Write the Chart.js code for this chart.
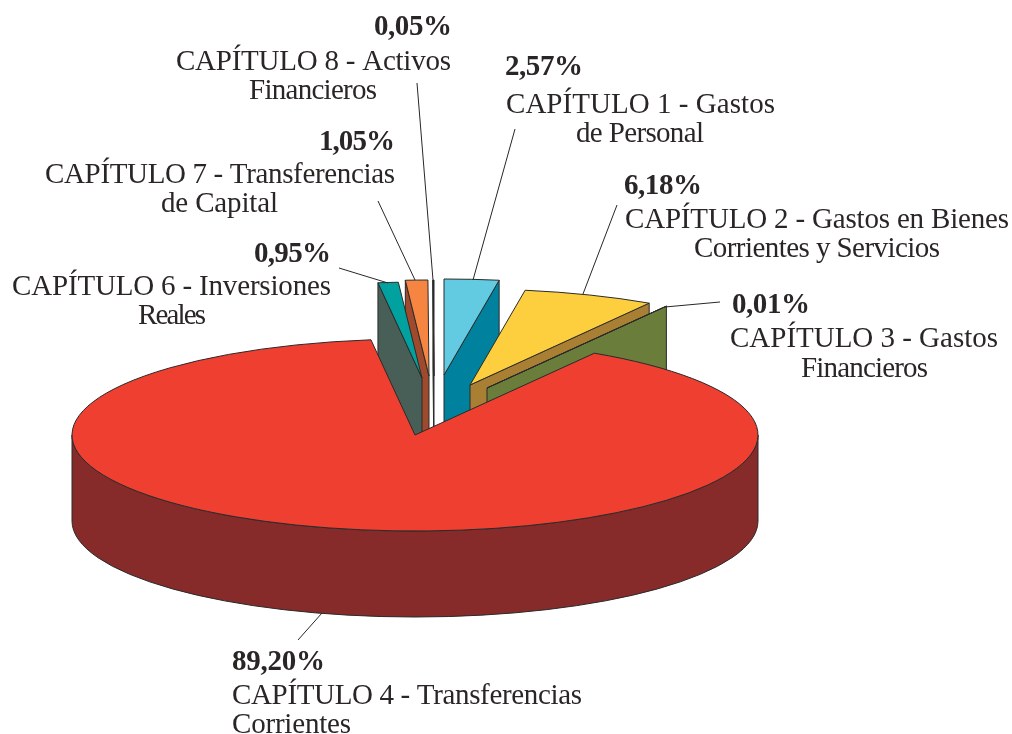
<!DOCTYPE html>
<html>
<head>
<meta charset="utf-8">
<style>html,body{margin:0;padding:0;background:#fff;overflow:hidden}canvas{display:block}</style>
<script src="https://cdn.jsdelivr.net/npm/chart.js@4"></script>
</head>
<body>
<canvas id="c" width="1012" height="734"></canvas>
<script>
const chapters = ['CAPÍTULO 1', 'CAPÍTULO 2', 'CAPÍTULO 3', 'CAPÍTULO 4', 'CAPÍTULO 6', 'CAPÍTULO 7', 'CAPÍTULO 8'];
const firstLines = ['CAPÍTULO 1 - Gastos', 'CAPÍTULO 2 - Gastos en Bienes', 'CAPÍTULO 3 - Gastos', 'CAPÍTULO 4 - Transferencias', 'CAPÍTULO 6 - Inversiones', 'CAPÍTULO 7 - Transferencias', 'CAPÍTULO 8 - Activos'];
const secondLines = ['de Personal', 'Corrientes y Servicios', 'Financieros', 'Corrientes', 'Reales', 'de Capital', 'Financieros'];
const shares = [2.57, 6.18, 0.01, 89.20, 0.95, 1.05, 0.05];
const topColours = ['#62cbe2', '#fdcf3e', '#6a7d3a', '#ee3f30', '#00a19e', '#f58540', '#1f2140'];
const sideColours = ['#00829f', '#a97f33', '#6a7d3a', '#872a2a', '#485f58', '#a04a2d', '#1f2140'];

const pie3d = {
  id: 'pie3d',
  beforeDatasetsDraw(chart, args, opts) {
    const ctx = chart.ctx;
    const arcs = chart.getDatasetMeta(0).data;
    const stroke = opts.stroke;
    const fillStroke = (fill) => {
      ctx.fillStyle = fill; ctx.fill();
      ctx.strokeStyle = stroke; ctx.lineWidth = 1; ctx.lineJoin = 'round'; ctx.stroke();
    };
    opts.order.forEach((i) => {
      const el = arcs[i];
      const [ox, oy] = opts.explode[i];
      const cx = el.x + ox, cy = el.y + oy;
      const rx = opts.rx, ry = opts.ry, d = opts.depth;
      const a0 = el.startAngle, a1 = el.endAngle;
      const px = (a) => cx + rx * Math.cos(a), py = (a) => cy + ry * Math.sin(a);
      if (a1 - a0 < Math.PI) {
        // cut face of a detached slice
        const mid = (a0 + a1) / 2 + Math.PI / 2;
        const a = mid < Math.PI ? a1 : a0;
        ctx.beginPath();
        ctx.moveTo(cx, cy); ctx.lineTo(px(a), py(a));
        ctx.lineTo(px(a), py(a) + d); ctx.lineTo(cx, cy + d);
        ctx.closePath();
        fillStroke(sideColours[i]);
      } else {
        // front wall of the main slice
        ctx.beginPath();
        ctx.ellipse(cx, cy, rx, ry, 0, 0, Math.PI);
        ctx.lineTo(cx - rx, cy + d);
        ctx.ellipse(cx, cy + d, rx, ry, 0, Math.PI, 0, true);
        ctx.closePath();
        fillStroke(sideColours[i]);
      }
      ctx.beginPath();
      ctx.moveTo(cx, cy);
      ctx.ellipse(cx, cy, rx, ry, 0, a0, a1);
      ctx.closePath();
      fillStroke(topColours[i]);
    });

    // labels and leader lines
    ctx.textAlign = 'left';
    ctx.textBaseline = 'alphabetic';
    const put = (text, [x, y, w], font) => {
      ctx.font = font;
      ctx.fillStyle = opts.textColour;
      ctx.letterSpacing = '0px';
      const m = ctx.measureText(text).width;
      ctx.letterSpacing = ((w - m) / Math.max(1, text.length - 1)).toFixed(3) + 'px';
      ctx.fillText(text, x, y);
      ctx.letterSpacing = '0px';
    };
    opts.labels.forEach((l, i) => {
      ctx.beginPath();
      ctx.moveTo(l.leader[0], l.leader[1]); ctx.lineTo(l.leader[2], l.leader[3]);
      ctx.strokeStyle = '#2b2626'; ctx.lineWidth = 1; ctx.stroke();
      put(shares[i].toFixed(2).replace('.', ',') + '%', l.pct, 'bold 29px "Liberation Serif"');
      put(firstLines[i], l.a, '29px "Liberation Serif"');
      put(secondLines[i], l.b, '29px "Liberation Serif"');
    });
    return false;
  }
};

new Chart(document.getElementById('c'), {
  type: 'pie',
  data: {
    labels: chapters,
    datasets: [{ data: shares, backgroundColor: topColours, borderWidth: 0 }]
  },
  plugins: [pie3d],
  options: {
    responsive: false,
    animation: false,
    events: [],
    layout: { padding: { left: 0, right: 182, top: 136, bottom: 0 } },
    plugins: {
      legend: { display: false },
      tooltip: { enabled: false },
      pie3d: {
        rx: 343, ry: 96, depth: 86,
        stroke: '#2a2a2a',
        textColour: '#2b2626',
        order: [6, 5, 4, 0, 1, 2, 3],
        explode: [[29, -60], [55, -50], [72, -47], [0, 0], [7, -57], [14, -59], [19, -59]],
        labels: [
          { pct: [505, 75, 78],  a: [506, 113, 269], b: [576, 142, 128], leader: [515, 129, 473, 280] },
          { pct: [624, 194, 78], a: [625, 228, 384], b: [694, 257, 246], leader: [617, 205, 583, 294] },
          { pct: [732, 313, 78], a: [730, 347, 268], b: [801, 377, 127], leader: [720, 302, 665, 307] },
          { pct: [232, 670, 93], a: [232, 704, 350], b: [232, 733, 119], leader: [322, 613, 298, 640] },
          { pct: [254, 262, 77], a: [12, 295, 319],  b: [138, 324, 68],  leader: [339, 268, 388, 283] },
          { pct: [319, 150, 76], a: [45, 183, 350],  b: [161, 212, 117], leader: [378, 201, 415, 280] },
          { pct: [374, 35, 78],  a: [176, 70, 275],  b: [249, 99, 128],  leader: [417, 83, 433, 280] }
        ]
      }
    }
  }
});
</script>
</body>
</html>
